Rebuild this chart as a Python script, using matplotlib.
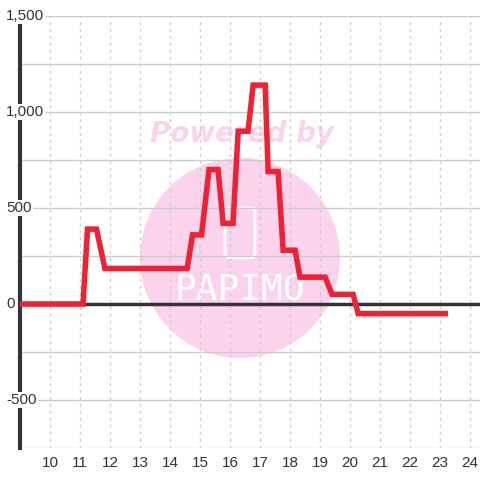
import matplotlib
matplotlib.use("Agg")
import matplotlib.pyplot as plt
import matplotlib.transforms as mtrans
from matplotlib.patches import Circle, FancyBboxPatch

# Data
hours = [9.0, 11.1, 11.25, 11.55, 11.83, 14.57, 14.75, 15.05, 15.3, 15.6, 15.77, 16.1,
         16.27, 16.6, 16.77, 17.17, 17.27, 17.6, 17.77, 18.17, 18.33, 19.17, 19.4, 20.1,
         20.27, 23.17]
values = [0, 0, 390, 390, 185, 185, 360, 360, 700, 700, 420, 420,
          900, 900, 1140, 1140, 690, 690, 280, 280, 140, 140, 50, 50,
          -50, -50]
x_ticks = list(range(10, 25))
y_ticks = [1500, 1000, 500, 0, -500]
y_tick_labels = ["1,500", "1,000", "500", "0", "-500"]

W, H = 480, 480
fig = plt.figure(figsize=(4.8, 4.8), dpi=100)
fig.patch.set_facecolor("white")
ax = fig.add_axes([20 / W, 1 - 448 / H, 460 / W, (448 - 16) / H])
ax.set_xlim(9.0, 24.33)
ax.set_ylim(-750, 1500)
ax.set_facecolor("white")

# watermark (figure coords, drawn below the data)
circ = Circle((240 / W, 1 - 258 / H), 100 / W, transform=fig.transFigure,
              facecolor="#fbd3ec", edgecolor="none", zorder=0.5, clip_on=False)
ax.add_patch(circ)
ax.text(242 / W, 1 - 134 / H, "Powered by", transform=fig.transFigure,
        ha="center", va="center", fontsize=20, fontweight="bold", style="italic",
        color="#fbd3ec", family="DejaVu Sans", zorder=0.6, clip_on=False)
ax.text(240 / W, 1 - 290 / H, "PAPIMO", transform=fig.transFigure,
        ha="center", va="center", fontsize=26, color="white",
        family="DejaVu Sans Mono", zorder=0.6, clip_on=False)
cup = FancyBboxPatch((225 / W, 1 - 258 / H), 30 / W, 50 / H,
                     boxstyle="round,pad=0,rounding_size=0.01",
                     transform=fig.transFigure, facecolor="none",
                     edgecolor="white", linewidth=2, zorder=0.6, clip_on=False)
ax.add_patch(cup)

# grid
for yv in range(-750, 1501, 250):
    ax.axhline(yv, color="#cccccc", linewidth=1, zorder=1)
for xv in x_ticks:
    ax.axvline(xv, color="#cccccc", linewidth=1, linestyle=(0, (2, 3)), zorder=1)

ax.axhline(0, color="#333333", linewidth=2.5, zorder=2)

ax.plot(hours, values, color="#ee2233", linewidth=4, solid_joinstyle="miter",
        zorder=3)

for s in ["top", "right", "bottom"]:
    ax.spines[s].set_visible(False)
ax.spines["left"].set_color("#333333")
ax.spines["left"].set_linewidth(3)
ax.spines["left"].set_zorder(2)

ax.set_xticks(x_ticks)
ax.set_xticklabels([str(t) for t in x_ticks], fontsize=11, color="#333333",
                   family="Liberation Sans")
ax.tick_params(axis="x", length=0, pad=6)
ax.set_yticks([])

ytrans = mtrans.blended_transform_factory(fig.transFigure, ax.transData)
for yv, lab in zip(y_ticks, y_tick_labels):
    ax.text(6 / W, yv, lab, transform=ytrans,
            ha="left", va="center", fontsize=11, color="#333333",
            family="Liberation Sans", zorder=5, clip_on=False,
            bbox=dict(facecolor="white", edgecolor="none", pad=1))

fig.savefig("out.png", dpi=100)
